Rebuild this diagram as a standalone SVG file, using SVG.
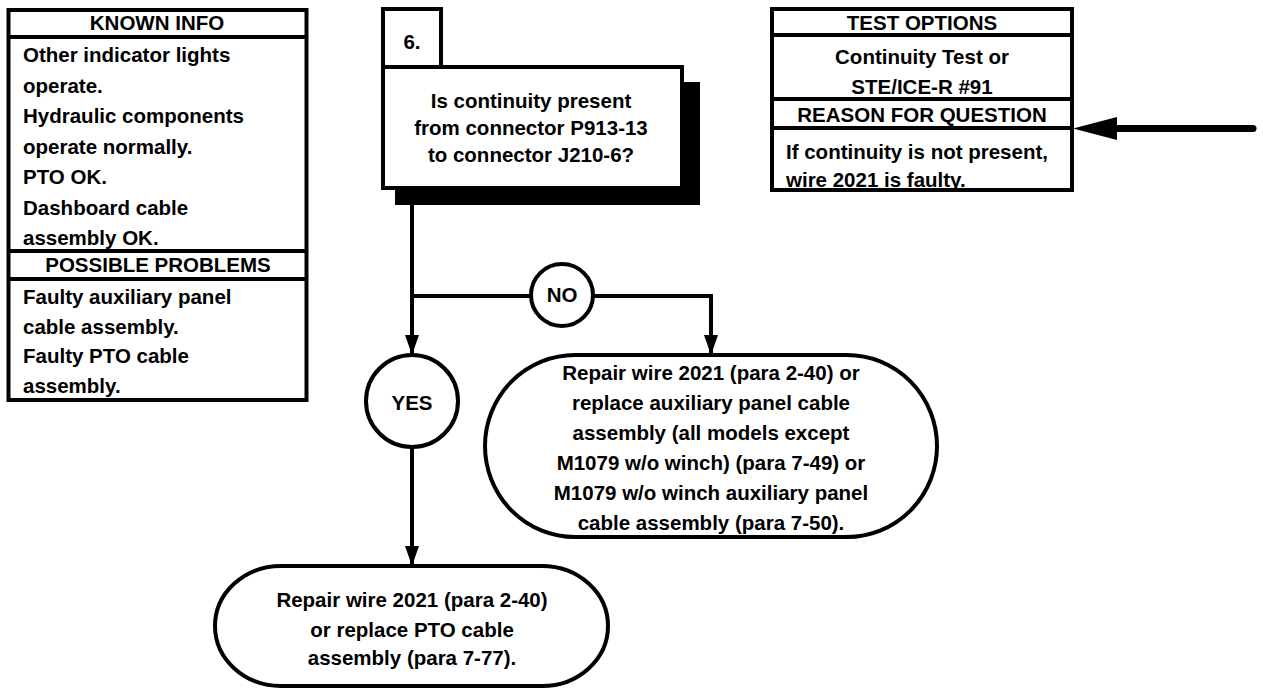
<svg xmlns="http://www.w3.org/2000/svg" width="1263" height="689" viewBox="0 0 1263 689">
<defs>
<style>
text{font-family:"Liberation Sans",Arial,sans-serif;font-weight:bold;font-size:20.5px;fill:#000}
.c{text-anchor:middle}
.box{fill:#fff;stroke:#000;stroke-width:4}
.ln{fill:none;stroke:#000;stroke-width:4}
.wire{fill:none;stroke:#000;stroke-width:4}
</style>
<marker id="ah" markerUnits="userSpaceOnUse" markerWidth="20" markerHeight="14" refX="20" refY="7" orient="auto">
<path d="M0,0 L20,7 L0,14 z" fill="#000"/>
</marker>
</defs>
<rect width="1263" height="689" fill="#fff"/>

<g id="known-info">
<rect class="box" x="8.5" y="10" width="298" height="390"/>
<line class="ln" x1="8.5" y1="37" x2="306.5" y2="37"/>
<line class="ln" x1="8.5" y1="251" x2="306.5" y2="251"/>
<line class="ln" x1="8.5" y1="279" x2="306.5" y2="279"/>
<text class="c" x="157" y="30">KNOWN INFO</text>
<text x="23" y="62">Other indicator lights</text>
<text x="23" y="92.5">operate.</text>
<text x="23" y="123">Hydraulic components</text>
<text x="23" y="153.5">operate normally.</text>
<text x="23" y="184">PTO OK.</text>
<text x="23" y="214.5">Dashboard cable</text>
<text x="23" y="245">assembly OK.</text>
<text class="c" x="158" y="272">POSSIBLE PROBLEMS</text>
<text x="23" y="304">Faulty auxiliary panel</text>
<text x="23" y="334">cable assembly.</text>
<text x="23" y="363">Faulty PTO cable</text>
<text x="23" y="393">assembly.</text>
</g>

<g id="step6">
<rect x="395" y="82" width="305" height="123" fill="#000"/>
<rect class="box" x="383" y="9" width="58" height="58"/>
<rect class="box" x="383" y="67" width="299" height="121"/>
<text class="c" x="412" y="49">6.</text>
<text class="c" x="531" y="108">Is continuity present</text>
<text class="c" x="531" y="135">from connector P913-13</text>
<text class="c" x="531" y="162">to connector J210-6?</text>
</g>

<g id="test-options">
<rect class="box" x="772" y="9" width="300" height="181"/>
<line class="ln" x1="772" y1="35" x2="1072" y2="35"/>
<line class="ln" x1="772" y1="99" x2="1072" y2="99"/>
<line class="ln" x1="772" y1="128" x2="1072" y2="128"/>
<text class="c" x="922" y="30">TEST OPTIONS</text>
<text class="c" x="922" y="64">Continuity Test or</text>
<text class="c" x="922" y="94">STE/ICE-R #91</text>
<text class="c" x="922" y="122">REASON FOR QUESTION</text>
<text x="786" y="159">If continuity is not present,</text>
<text x="786" y="187">wire 2021 is faulty.</text>
</g>

<g id="connectors">
<path class="wire" d="M412,205 V355" marker-end="url(#ah)"/>
<path class="wire" d="M412,296 H531"/>
<path class="wire" d="M593,296 H711 V355" marker-end="url(#ah)"/>
<path class="wire" d="M412,447 V566" marker-end="url(#ah)"/>
<path d="M1253,128.5 H1112" fill="none" stroke="#000" stroke-width="7" stroke-linecap="round"/>
<path d="M1073,128.5 L1117,117 L1117,140 z" fill="#000"/>
</g>

<g id="no-label">
<circle class="box" cx="562" cy="295" r="31"/>
<text class="c" x="562" y="302">NO</text>
</g>

<g id="yes-label">
<circle class="box" cx="412" cy="401" r="46"/>
<text class="c" x="412" y="410">YES</text>
</g>

<g id="no-result">
<rect class="box" x="485" y="355" width="452" height="182" rx="90" ry="91"/>
<text class="c" x="711" y="380">Repair wire 2021 (para 2-40) or</text>
<text class="c" x="711" y="410">replace auxiliary panel cable</text>
<text class="c" x="711" y="440">assembly (all models except</text>
<text class="c" x="711" y="470">M1079 w/o winch) (para 7-49) or</text>
<text class="c" x="711" y="500">M1079 w/o winch auxiliary panel</text>
<text class="c" x="711" y="530">cable assembly (para 7-50).</text>
</g>

<g id="yes-result">
<rect class="box" x="215" y="566" width="393" height="120" rx="66" ry="60"/>
<text class="c" x="412" y="607">Repair wire 2021 (para 2-40)</text>
<text class="c" x="412" y="637">or replace PTO cable</text>
<text class="c" x="412" y="665">assembly (para 7-77).</text>
</g>
</svg>
